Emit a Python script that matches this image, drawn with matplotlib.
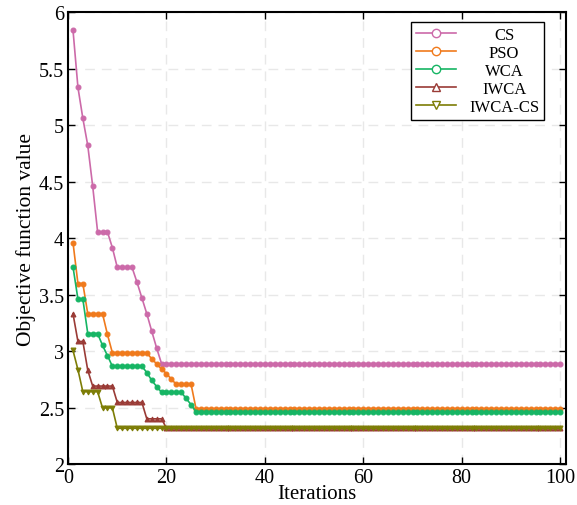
import matplotlib.pyplot as plt
from matplotlib.lines import Line2D
import numpy as np

plt.rcParams['font.family'] = ['Liberation Serif', 'DejaVu Serif']

# convergence curves, one value per iteration (1..100)
cs = [5.84, 5.335, 5.06, 4.82, 4.46, 4.055, 4.055, 4.055, 3.915, 3.74, 3.74, 3.74, 3.74,
      3.61, 3.47, 3.33, 3.176, 3.026] + [2.888] * 82
pso = [3.96, 3.597, 3.597, 3.33, 3.33, 3.33, 3.33, 3.147] + [2.985] * 8 + \
      [2.93, 2.887, 2.84, 2.80, 2.75] + [2.705] * 4 + [2.49] * 75
wca = [3.745, 3.46, 3.46, 3.155, 3.155, 3.155, 3.05, 2.96] + [2.865] * 7 + \
      [2.81, 2.74, 2.686] + [2.635] * 5 + [2.58, 2.525] + [2.462] * 75
iwca = [3.33, 3.085, 3.085, 2.83] + [2.69] * 5 + [2.545] * 6 + [2.40] * 4 + [2.316] * 81
iwca_cs = [3.005, 2.836] + [2.64] * 4 + [2.497] * 3 + [2.316] * 91

iterations = np.arange(1, 101)
names = ['CS', 'PSO', 'WCA', 'IWCA', 'IWCA-CS']
series = [cs, pso, wca, iwca, iwca_cs]
colors = ['#cc6aa9', '#f07a1c', '#16b564', '#9a3b36', '#7d7d06']
markers = ['o', 'o', 'o', '^', 'v']

fig = plt.figure(figsize=(5.77, 5.06), dpi=100)
ax = fig.add_axes([0.118, 0.081, 0.863, 0.893])

for y, c, m in zip(series, colors, markers):
    ax.plot(iterations, y, color=c, lw=1.2, marker=m, ms=3.5, mew=0.8,
            mec=c, mfc=c)

ax.set_xlim(0, 101.2)
ax.set_ylim(2, 6)
ax.set_xticks(np.arange(0, 101, 20))
ax.set_yticks(np.arange(2, 6.01, 0.5))
ax.set_yticklabels(['2', '2.5', '3', '3.5', '4', '4.5', '5', '5.5', '6'])
ax.grid(True, color='#e8e8e8', ls=(0, (7, 5)), lw=1)
ax.set_axisbelow(True)
ax.tick_params(direction='in', top=True, right=True, length=5, width=1,
               labelsize=14.5, pad=3)
for s in ax.spines.values():
    s.set_linewidth(1.5)

ax.set_xlabel('Iterations', fontsize=15, labelpad=-2)
ax.set_ylabel('Objective function value', fontsize=15.5, labelpad=2)

handles = [Line2D([], [], color=c, lw=1.2, marker=m, ms=6, mfc='white', mec=c, mew=1)
           for c, m in zip(colors, markers)]
leg = ax.legend(handles, names, loc='upper left', bbox_to_anchor=(0.688, 0.979),
                borderaxespad=0, fontsize=12, frameon=True, fancybox=False,
                edgecolor='black', framealpha=1, handlelength=2.4,
                labelspacing=0.13, borderpad=0.3, handletextpad=0.8)
leg.get_frame().set_linewidth(1)

# centre the legend labels in their column
fig.canvas.draw()
r = fig.canvas.get_renderer()
widths = [t.get_window_extent(r).width for t in leg.get_texts()]
wmax = max(widths)
for t, w in zip(leg.get_texts(), widths):
    t.set_x((wmax - w) / 2)

fig.savefig('out.png', dpi=100)
